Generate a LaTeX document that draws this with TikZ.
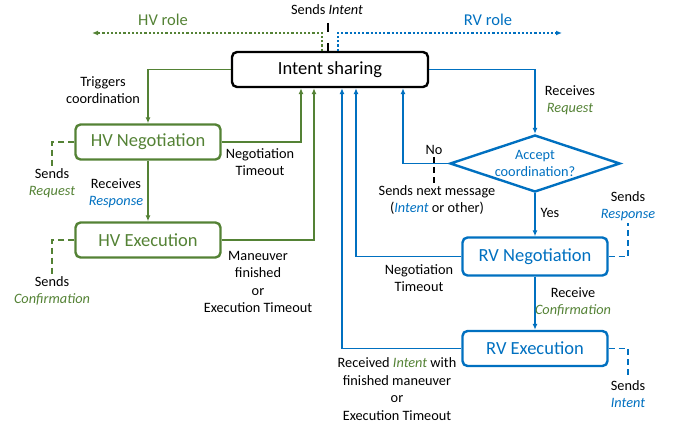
\documentclass[tikz,border=0pt]{standalone}
\usepackage{fontspec}
\setmainfont{Carlito}
\usetikzlibrary{arrows.meta,shapes.geometric,positioning}

\definecolor{hvgreen}{RGB}{84,130,53}
\definecolor{rvblue}{RGB}{0,112,192}

\newcommand{\hvmsg}[1]{\textcolor{hvgreen}{\textit{#1}}}
\newcommand{\rvmsg}[1]{\textcolor{rvblue}{\textit{#1}}}

\tikzset{
  statebox/.style={draw, line width=2.4pt, rounded corners=5pt, minimum width=145pt, minimum height=35pt, font=\fontsize{18.5}{22}\selectfont},
  hvbox/.style={statebox, draw=hvgreen, text=hvgreen},
  rvbox/.style={statebox, draw=rvblue, text=rvblue},
  decision/.style={diamond, aspect=3, draw=rvblue, text=rvblue, line width=2.4pt, inner sep=0pt, minimum width=170pt, minimum height=57pt, align=center, font=\fontsize{14.3}{17}\selectfont},
  lbl/.style={align=center, inner sep=2pt, font=\fontsize{14.3}{17.5}\selectfont},
  rolelbl/.style={font=\fontsize{16.5}{19}\selectfont},
  hvline/.style={draw=hvgreen, line width=1.5pt},
  rvline/.style={draw=rvblue, line width=1.5pt},
  roleline/.style={line width=2.4pt, dash pattern=on 2.2pt off 2pt},
  sendline/.style={line width=1.5pt, dash pattern=on 6pt off 4pt},
}

\begin{document}
\begin{tikzpicture}[x=1pt, y=-1pt, >={Latex[length=6pt,width=5pt]}]
\useasboundingbox (0,0) rectangle (678,425);

% states
\node[statebox, minimum width=196pt] (intent) at (330,69.5) {Intent sharing};
\node[hvbox] (hvneg) at (148,142) {HV Negotiation};
\node[hvbox] (hvexec) at (148,240) {HV Execution};
\node[decision] (accept) at (535,163.5) {Accept\\coordination?};
\node[rvbox, minimum height=38pt] (rvneg) at (535,256.5) {RV Negotiation};
\node[rvbox] (rvexec) at (535,348.5) {RV Execution};

% roles
\node[lbl] (sendsintent) at (327,10) {Sends \textit{Intent}};
\node[rolelbl, text=hvgreen] (hvrole) at (163,20) {HV role};
\node[rolelbl, text=rvblue] (rvrole) at (488,20) {RV role};
\coordinate (hvend) at (92,33);
\coordinate (rvend) at (562,33);
\coordinate (tick) at (328,23);
\draw[hvline, roleline, ->] ([xshift=-8pt]intent.north) |- (hvend);
\draw[rvline, roleline, ->] ([xshift=8pt]intent.north) |- (rvend);
\draw[line width=1.8pt, dash pattern=on 9pt off 11pt] (tick) -- (intent.north -| tick);

% HV transitions
\draw[hvline, ->] (intent.west) -| (hvneg.north);
\draw[hvline, ->] (hvneg.south) -- (hvexec.north);
\draw[hvline, ->] (hvneg.east) -| ([xshift=-29pt]intent.south);
\draw[hvline, ->] (hvexec.east) -| ([xshift=-16pt]intent.south);

% RV transitions
\draw[rvline, ->] (intent.east) -| (accept.north);
\draw[rvline, ->] (accept.west) -| ([xshift=73pt]intent.south);
\draw[rvline, ->] (accept.south) -- (rvneg.north);
\draw[rvline, ->] (rvneg.west) -| ([xshift=26pt]intent.south);
\draw[rvline, ->] (rvneg.south) -- (rvexec.north);
\draw[rvline, ->] (rvexec.west) -| ([xshift=12pt]intent.south);

% transition labels
\node[lbl] (trig) at (103,90) {Triggers\\coordination};
\node[lbl] (hvnegto) at (260,162) {Negotiation\\Timeout};
\node[lbl] (recresp) at (116,193) {Receives\\\rvmsg{Response}};
\node[lbl] (manfin) at (258,282) {Maneuver\\finished\\or\\Execution Timeout};
\node[lbl] (recreq) at (570,100) {Receives\\\hvmsg{Request}};
\node[lbl] (nolbl) at (434,150) {No};
\node[lbl] (nextmsg) at (437,200) {Sends next message\\(\rvmsg{Intent} or other)};
\node[lbl] (yes) at (550,213) {Yes};
\node[lbl] (rvnegto) at (419,278) {Negotiation\\Timeout};
\node[lbl] (recconf) at (573,302) {Receive\\\hvmsg{Confirmation}};
\node[lbl] (recint) at (397,389) {Received \hvmsg{Intent} with\\finished maneuver\\or\\Execution Timeout};

% sent messages
\node[lbl] (hvreq) at (52,183) {Sends\\\hvmsg{Request}};
\node[lbl] (hvconf) at (52,291) {Sends\\\hvmsg{Confirmation}};
\node[lbl] (rvresp) at (628,206) {Sends\\\rvmsg{Response}};
\node[lbl] (rvint) at (628,394) {Sends\\\rvmsg{Intent}};
\draw[hvline, sendline] (hvneg.west) -| (hvreq.north);
\draw[hvline, sendline] (hvexec.west) -| (hvconf.north);
\draw[rvline, sendline] (rvneg.east) -| (rvresp.south);
\draw[rvline, sendline] (rvexec.east) -| (rvint.north);
\draw[sendline] (nolbl.south) -- (nextmsg.north -| nolbl.south);
\end{tikzpicture}
\end{document}
